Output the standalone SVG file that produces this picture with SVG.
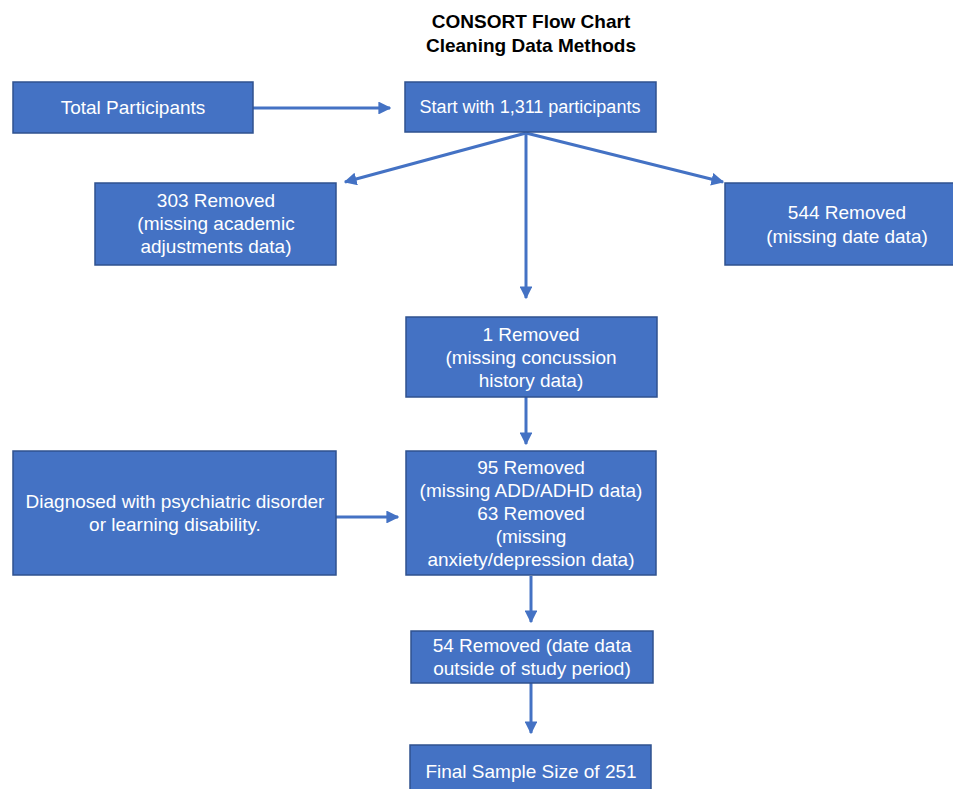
<svg xmlns="http://www.w3.org/2000/svg" width="953" height="789" viewBox="0 0 953 789">
<defs>
<marker id="ah" viewBox="0 0 10 10" refX="9" refY="5" markerWidth="4.3" markerHeight="4.3" orient="auto" markerUnits="strokeWidth">
<path d="M0,0 L10,5 L0,10 z" fill="#4472C4"/>
</marker>
<style>
.box{fill:#4472C4;stroke:#2F528F;stroke-width:1.5}
.t{fill:#ffffff;font-family:"Liberation Sans",Arial,sans-serif;font-size:19px;text-anchor:middle}
.title{fill:#000000;font-family:"Liberation Sans",Arial,sans-serif;font-size:19px;font-weight:bold;text-anchor:middle}
.c{stroke:#4472C4;stroke-width:3;fill:none;marker-end:url(#ah)}
</style>
</defs>
<rect width="953" height="789" fill="#ffffff"/>
<g id="title">
<text class="title" x="531" y="28">CONSORT Flow Chart</text>
<text class="title" x="531" y="52">Cleaning Data Methods</text>
</g>
<g id="connectors">
<line class="c" x1="253" y1="108" x2="390" y2="108"/>
<line class="c" x1="526" y1="133" x2="345" y2="182"/>
<line class="c" x1="526" y1="133" x2="723" y2="182"/>
<line class="c" x1="526" y1="133" x2="526" y2="298"/>
<line class="c" x1="526" y1="397" x2="526" y2="444"/>
<line class="c" x1="336" y1="517" x2="398" y2="517"/>
<line class="c" x1="531" y1="576" x2="531" y2="622"/>
<line class="c" x1="531" y1="683" x2="531" y2="733"/>
</g>
<g id="total">
<rect class="box" x="13" y="82" width="240" height="51"/>
<text class="t" x="133" y="114">Total Participants</text>
</g>
<g id="start">
<rect class="box" x="405" y="82" width="251" height="50"/>
<text class="t" x="530" y="113" style="font-size:18px">Start with 1,311 participants</text>
</g>
<g id="removed303">
<rect class="box" x="95" y="183" width="241" height="82"/>
<text class="t" x="216" y="207">303 Removed</text>
<text class="t" x="216" y="230">(missing academic</text>
<text class="t" x="216" y="253">adjustments data)</text>
</g>
<g id="removed544">
<rect class="box" x="725" y="183" width="230" height="82"/>
<text class="t" x="847" y="219">544 Removed</text>
<text class="t" x="847" y="243">(missing date data)</text>
</g>
<g id="removed1">
<rect class="box" x="406" y="317" width="251" height="80"/>
<text class="t" x="531" y="341">1 Removed</text>
<text class="t" x="531" y="364">(missing concussion</text>
<text class="t" x="531" y="387">history data)</text>
</g>
<g id="diagnosed">
<rect class="box" x="13" y="451" width="323" height="124"/>
<text class="t" x="175" y="508">Diagnosed with psychiatric disorder</text>
<text class="t" x="175" y="531">or learning disability.</text>
</g>
<g id="removed95">
<rect class="box" x="406" y="451" width="250" height="124"/>
<text class="t" x="531" y="474">95 Removed</text>
<text class="t" x="531" y="497">(missing ADD/ADHD data)</text>
<text class="t" x="531" y="520">63 Removed</text>
<text class="t" x="531" y="543">(missing</text>
<text class="t" x="531" y="566">anxiety/depression data)</text>
</g>
<g id="removed54">
<rect class="box" x="411" y="631" width="242" height="52"/>
<text class="t" x="532" y="652">54 Removed (date data</text>
<text class="t" x="532" y="675">outside of study period)</text>
</g>
<g id="final">
<rect class="box" x="410" y="745" width="241" height="50"/>
<text class="t" x="531" y="778">Final Sample Size of 251</text>
</g>
</svg>
